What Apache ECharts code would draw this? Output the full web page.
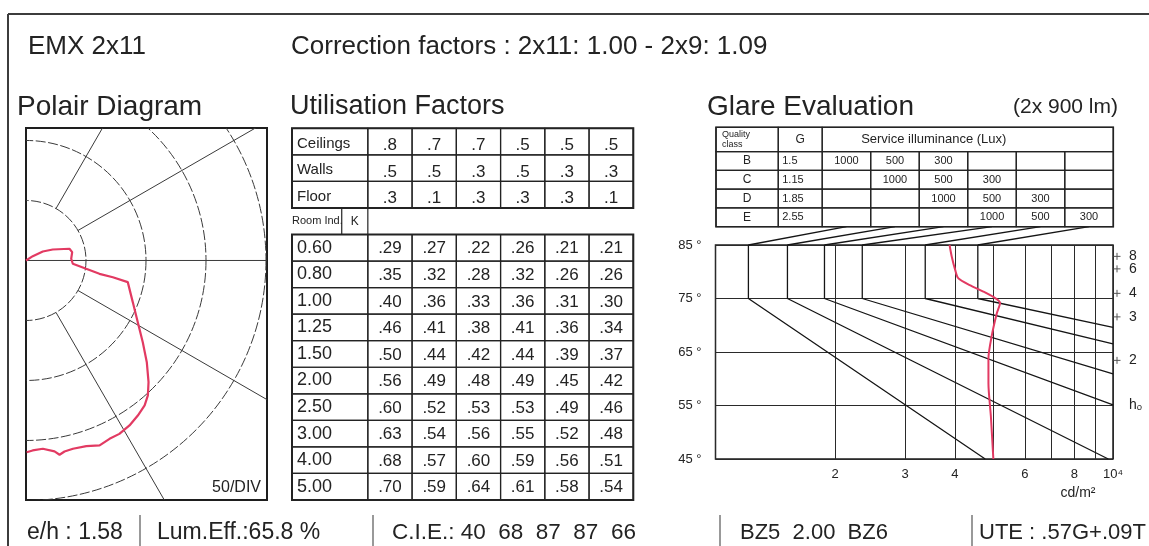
<!DOCTYPE html>
<html>
<head>
<meta charset="utf-8">
<script src="https://cdn.jsdelivr.net/npm/echarts@6/dist/echarts.min.js"></script>
<style>
html,body{margin:0;padding:0;background:#fff;}
#c{width:1149px;height:546px;}
</style>
</head>
<body>
<div id="c"></div>
<script>
// ================= DATA =================
// Polar light distribution (angle from nadir in degrees, intensity in cd/klm)
const polarAngles = [180, 122.3, 118.2, 112.3, 105.1, 100.2, 92.2, 86.0, 82.1, 79.7, 79.1, 78.0, 68.7, 61.1, 55.0, 49.9, 45.2, 42.1, 39.3, 35.8, 32.1, 28.3, 25.1, 21.7, 18.0, 14.0, 11.4, 9.8, 8.5, 5.1, 2.0, 0.2];
const polarIntensity = [0, 6.7, 15.9, 24.1, 37.5, 39.1, 37.7, 39.1, 50.6, 62.2, 73.7, 86.7, 95.5, 106.4, 118.8, 131.6, 143.9, 151.5, 156.1, 159.3, 162.3, 164.1, 164.1, 165.9, 162.7, 161.7, 162.4, 164.3, 160.9, 157.5, 158.4, 159.8];
const polarRings = [50, 100, 150, 200];
const polarSpokes = [30, 60, 90, 120, 150];

// Utilisation factors
const ceilings = [0.8, 0.7, 0.7, 0.5, 0.5, 0.5];
const walls    = [0.5, 0.5, 0.3, 0.5, 0.3, 0.3];
const floors   = [0.3, 0.1, 0.3, 0.3, 0.3, 0.1];
const roomIndices = ['0.60', '0.80', '1.00', '1.25', '1.50', '2.00', '2.50', '3.00', '4.00', '5.00'];
const utilisation = [
  [0.29, 0.27, 0.22, 0.26, 0.21, 0.21],
  [0.35, 0.32, 0.28, 0.32, 0.26, 0.26],
  [0.40, 0.36, 0.33, 0.36, 0.31, 0.30],
  [0.46, 0.41, 0.38, 0.41, 0.36, 0.34],
  [0.50, 0.44, 0.42, 0.44, 0.39, 0.37],
  [0.56, 0.49, 0.48, 0.49, 0.45, 0.42],
  [0.60, 0.52, 0.53, 0.53, 0.49, 0.46],
  [0.63, 0.54, 0.56, 0.55, 0.52, 0.48],
  [0.68, 0.57, 0.60, 0.59, 0.56, 0.51],
  [0.70, 0.59, 0.64, 0.61, 0.58, 0.54]
];

// Glare evaluation table
const qualityClasses = ['B', 'C', 'D', 'E'];
const glareG = ['1.5', '1.15', '1.85', '2.55'];
const serviceLux = [1000, 500, 300];
const serviceColumnStart = [0, 1, 2, 3];

// Glare limit curves (luminance cd/m2 : vertical part 85-75 deg, then end point)
const glareLimitTop = [1210, 1517, 1880, 2340, 3370, 4570];
const glareLimitEnd = [[4770, 45], [9730, 45], [10000, 55.1], [10000, 60.9], [10000, 66.5], [10000, 69.6]];

// Luminance curve of the luminaire
const glareAngles = [85, 82.8, 80.3, 78.8, 77.5, 76.3, 75.3, 74.2, 72.2, 67.9, 63.8, 59.1, 52.9, 45];
const glareLum = [3880, 3930, 4010, 4080, 4360, 4720, 5000, 5200, 5100, 4950, 4860, 4860, 4930, 5000];

// Axis ticks
const lumTicks = [2000, 3000, 4000, 6000, 8000, 10000];
const lumGrid = [1000, 2000, 3000, 4000, 5000, 6000, 7000, 8000, 9000, 10000];
const angleTicks = [45, 55, 65, 75, 85];
const ahRatios = [8, 6, 4, 3, 2];
const hoAngle = 55;

// Text blocks
const headerTitle = 'EMX 2x11';
const headerCorrection = 'Correction factors : 2x11: 1.00 - 2x9: 1.09';
const footerItems = ['e/h : 1.58', 'Lum.Eff.:65.8 %', 'C.I.E.: 40  68  87  87  66', 'BZ5  2.00  BZ6', 'UTE : .57G+.09T'];

// ================= STYLE / LAYOUT =================
const FONT = '"Liberation Sans", Arial, sans-serif';
const INK = '#232323';
const RED = '#e23a62';

function fmtDec(v, d) { return v.toFixed(d).replace(/^0/, ''); }

// ---- utilisation table cells ----
const UT_LABEL_W = 1.714;
const utilCells = [];
[['Ceilings', ceilings], ['Walls', walls], ['Floor', floors]].forEach(function (pair, r) {
  utilCells.push({x0: -UT_LABEL_W, x1: 0, y0: r, y1: r + 1, text: pair[0], align: 'left', pad: 5, size: 15, dy: 2});
  pair[1].forEach(function (v, c) {
    utilCells.push({x0: c, x1: c + 1, y0: r, y1: r + 1, text: fmtDec(v, 1), size: 17, dy: 4});
  });
});
utilCells.push({x0: -UT_LABEL_W, x1: -0.59, y0: 3, y1: 4, text: 'Room Ind.', align: 'left', pad: 0, size: 11, border: false});
utilCells.push({x0: -0.59, x1: 0, y0: 3, y1: 4, text: 'K', size: 12, border: false, lines: ['l', 'r']});
roomIndices.forEach(function (k, r) {
  const row = r + 4;
  utilCells.push({x0: -UT_LABEL_W, x1: 0, y0: row, y1: row + 1, text: k, align: 'left', pad: 5, size: 18});
  utilisation[r].forEach(function (v, c) {
    utilCells.push({x0: c, x1: c + 1, y0: row, y1: row + 1, text: fmtDec(v, 2), size: 17, dy: 1});
  });
});
utilCells.push({x0: -UT_LABEL_W, x1: 6, y0: 0, y1: 3, lw: 2});
utilCells.push({x0: -UT_LABEL_W, x1: 6, y0: 4, y1: 14, lw: 2});

// ---- glare table cells ----
const GQ_W = 1.283, GG_W = 0.906, GH = 1.3;
const gx0 = -(GQ_W + GG_W);
const glareCells = [];
glareCells.push({x0: gx0, x1: -GG_W, y0: 0, y1: GH, text: 'Quality\nclass', align: 'left', pad: 6, size: 9, lh: 10});
glareCells.push({x0: -GG_W, x1: 0, y0: 0, y1: GH, text: 'G', size: 12});
glareCells.push({x0: 0, x1: 6, y0: 0, y1: GH, text: 'Service illuminance (Lux)', size: 13, dx: -34});
qualityClasses.forEach(function (q, i) {
  const y0 = GH + i;
  glareCells.push({x0: gx0, x1: -GG_W, y0: y0, y1: y0 + 1, text: q, size: 12});
  glareCells.push({x0: -GG_W, x1: 0, y0: y0, y1: y0 + 1, text: glareG[i], align: 'left', pad: 4, size: 11});
  for (let j = 0; j < 6; j++) {
    const k = j - serviceColumnStart[i];
    glareCells.push({x0: j, x1: j + 1, y0: y0, y1: y0 + 1,
      text: (k >= 0 && k < serviceLux.length) ? String(serviceLux[k]) : null, size: 11});
  }
});
glareCells.push({x0: gx0, x1: 6, y0: 0, y1: GH + 4, lw: 1.6});

function renderCells(cells) {
  return function (params, api) {
    const c = cells[params.dataIndex];
    const p0 = api.coord([c.x0, c.y0]);
    const p1 = api.coord([c.x1, c.y1]);
    const x = Math.min(p0[0], p1[0]), y = Math.min(p0[1], p1[1]);
    const w = Math.abs(p1[0] - p0[0]), h = Math.abs(p1[1] - p0[1]);
    const kids = [];
    if (c.border !== false) {
      kids.push({type: 'rect', shape: {x: x, y: y, width: w, height: h},
        style: {fill: 'none', stroke: INK, lineWidth: c.lw || 1.2}});
    }
    (c.lines || []).forEach(function (s) {
      const lx = s === 'l' ? x : x + w;
      kids.push({type: 'line', shape: {x1: lx, y1: y, x2: lx, y2: y + h}, style: {stroke: INK, lineWidth: 1.2}});
    });
    if (c.text != null) {
      const tx = c.align === 'left' ? x + (c.pad || 0) : x + w / 2 + (c.dx || 0);
      const st = {text: c.text, fill: INK, font: c.size + 'px ' + FONT, align: c.align || 'center', verticalAlign: 'middle'};
      if (c.lh) st.lineHeight = c.lh;
      kids.push({type: 'text', x: tx, y: y + h / 2 + (c.dy || 0), style: st});
    }
    return {type: 'group', children: kids};
  };
}

// right-hand a/h scale of the glare diagram
function renderRightScale(labels, withTick) {
  return function (params, api) {
    const p = api.coord([api.value(0), api.value(1)]);
    const kids = [];
    if (withTick) {
      kids.push({type: 'line', shape: {x1: p[0] + 0.5, y1: p[1], x2: p[0] + 7.5, y2: p[1]}, style: {stroke: '#555', lineWidth: 1}});
      kids.push({type: 'line', shape: {x1: p[0] + 4, y1: p[1] - 3.5, x2: p[0] + 4, y2: p[1] + 3.5}, style: {stroke: '#555', lineWidth: 1}});
    }
    kids.push({type: 'text', x: p[0] + 16, y: p[1], style: {text: labels[params.dataIndex], fill: INK,
      font: '14px ' + FONT, align: 'left', verticalAlign: 'middle'}});
    return {type: 'group', children: kids};
  };
}

// ================= CHART =================
const chart = echarts.init(document.getElementById('c'), null, {renderer: 'canvas'});
const toRad = Math.PI / 180;

const option = {
  animation: false,
  backgroundColor: '#fff',
  grid: [
    {left: 26, top: 128, width: 241, height: 372, show: true, borderColor: '#1e1e1e', borderWidth: 2, backgroundColor: '#fff'},
    {left: 292, top: 128.3, width: 341.3, height: 371.7},
    {left: 716, top: 127.3, width: 397.3, height: 99.4},
    {left: 715.5, top: 245, width: 397.5, height: 214, show: true, borderColor: '#1e1e1e', borderWidth: 1.5, backgroundColor: '#fff'}
  ],
  xAxis: [
    {gridIndex: 0, type: 'value', min: 0, max: 200.83, show: false},
    {gridIndex: 1, type: 'value', min: -UT_LABEL_W, max: 6, show: false},
    {gridIndex: 2, type: 'value', min: gx0, max: 6, show: false},
    {gridIndex: 3, type: 'log', logBase: 10, min: 1000, max: 10000,
      axisLine: {show: false},
      axisTick: {show: false, customValues: lumGrid},
      splitLine: {show: true, lineStyle: {color: '#2a2a2a', width: 1}},
      axisLabel: {customValues: lumTicks, margin: 9, fontSize: 13, color: INK, fontFamily: FONT, hideOverlap: false,
        formatter: function (v) { return v >= 9999 ? '10\u2074' : String(Math.round(v / 1000)); }}
    }
  ],
  yAxis: [
    {gridIndex: 0, type: 'value', min: -199.6, max: 110.4, show: false},
    {gridIndex: 1, type: 'value', min: 0, max: 14, inverse: true, show: false},
    {gridIndex: 2, type: 'value', min: 0, max: GH + 4, inverse: true, show: false},
    {gridIndex: 3, type: 'value', min: 45, max: 85,
      axisLine: {show: false},
      axisTick: {show: false, customValues: angleTicks},
      splitLine: {show: true, lineStyle: {color: '#2a2a2a', width: 1}},
      axisLabel: {customValues: angleTicks, margin: 14, fontSize: 13, color: INK, fontFamily: FONT,
        formatter: function (v) { return v + ' \u00b0'; }}
    }
  ],
  series: [
    {type: 'custom', xAxisIndex: 0, yAxisIndex: 0, clip: true, silent: true,
      data: polarRings.map(function (r) { return [r, 0]; }),
      renderItem: function (params, api) {
        const r = api.value(0);
        const c = api.coord([0, 0]);
        const rr = api.size([r, 0])[0];
        return {type: 'circle', shape: {cx: c[0], cy: c[1], r: rr},
          style: {fill: 'none', stroke: '#3a3a3a', lineWidth: 1, lineDash: [10, 2.5]}};
      }
    },
    {type: 'custom', xAxisIndex: 0, yAxisIndex: 0, clip: true, silent: true,
      data: polarSpokes.map(function (a) { return [a, 0]; }),
      renderItem: function (params, api) {
        const a = api.value(0) * toRad;
        const r0 = Math.abs(api.value(0) - 90) < 1e-6 ? 0 : polarRings[0];
        const r1 = 400;
        const p0 = api.coord([r0 * Math.sin(a), -r0 * Math.cos(a)]);
        const p1 = api.coord([r1 * Math.sin(a), -r1 * Math.cos(a)]);
        return {type: 'line', shape: {x1: p0[0], y1: p0[1], x2: p1[0], y2: p1[1]},
          style: {stroke: '#3a3a3a', lineWidth: 1}};
      }
    },
    {type: 'line', xAxisIndex: 0, yAxisIndex: 0, symbol: 'none', silent: true,
      lineStyle: {color: RED, width: 2.2},
      data: polarAngles.map(function (a, i) {
        return [polarIntensity[i] * Math.sin(a * toRad), -polarIntensity[i] * Math.cos(a * toRad)];
      })
    },
    {type: 'custom', xAxisIndex: 1, yAxisIndex: 1, clip: false, silent: true,
      data: utilCells.map(function (c) { return [c.x0, c.y0, c.x1, c.y1]; }),
      renderItem: renderCells(utilCells)
    },
    {type: 'custom', xAxisIndex: 2, yAxisIndex: 2, clip: false, silent: true,
      data: glareCells.map(function (c) { return [c.x0, c.y0, c.x1, c.y1]; }),
      renderItem: renderCells(glareCells)
    },
    {type: 'custom', xAxisIndex: 3, yAxisIndex: 3, clip: false, silent: true,
      data: ahRatios.map(function (r) { return [10000, Math.atan(r) / toRad]; }),
      renderItem: renderRightScale(ahRatios.map(String), true)
    },
    {type: 'custom', xAxisIndex: 3, yAxisIndex: 3, clip: false, silent: true,
      data: [[10000, hoAngle]],
      renderItem: renderRightScale(['h\u2092'], false)
    }
  ].concat(glareLimitTop.map(function (L, i) {
    return {type: 'line', xAxisIndex: 3, yAxisIndex: 3, symbol: 'none', silent: true,
      lineStyle: {color: '#151515', width: 1.3},
      data: [[L, 85], [L, 75], glareLimitEnd[i]]};
  })).concat([
    {type: 'line', xAxisIndex: 3, yAxisIndex: 3, symbol: 'none', silent: true, smooth: 0.25,
      lineStyle: {color: RED, width: 2},
      data: glareAngles.map(function (a, i) { return [glareLum[i], a]; })
    }
  ])
};

chart.setOption(option);

// ---- free text, frame and connectors ----
function txt(x, y, s, size, align) {
  return {type: 'text', x: x, y: y, silent: true,
    style: {text: s, fill: INK, font: size + 'px ' + FONT, align: align || 'left', verticalAlign: 'middle'}};
}
function ln(x1, y1, x2, y2, w, col) {
  return {type: 'line', silent: true, shape: {x1: x1, y1: y1, x2: x2, y2: y2},
    style: {stroke: col || '#444', lineWidth: w || 1.5}};
}
const graphics = [
  ln(8, 14, 1149, 14, 2, '#3c3c3c'),
  ln(8, 14, 8, 546, 2, '#3c3c3c'),
  txt(28, 47, headerTitle, 26),
  txt(291, 47, headerCorrection, 26),
  txt(17, 107, 'Polair Diagram', 28),
  txt(290, 107, 'Utilisation Factors', 27),
  txt(707, 107, 'Glare Evaluation', 28),
  txt(1118, 107, '(2x 900 lm)', 21, 'right'),
  txt(261, 488, '50/DIV', 16, 'right'),
  txt(1078, 493, 'cd/m\u00b2', 14, 'center')
];
const footerX = [27, 157, 392, 740, 979];
const footerSize = [23, 23, 22.5, 22, 22];
footerItems.forEach(function (s, i) { graphics.push(txt(footerX[i], 533, s, footerSize[i])); });
[140, 373, 720, 972].forEach(function (x) { graphics.push(ln(x, 515, x, 546, 1.5, '#777')); });

glareLimitTop.forEach(function (L, i) {
  const a = chart.convertToPixel({xAxisIndex: 2, yAxisIndex: 2}, [i + 0.5, GH + 4]);
  const b = chart.convertToPixel({xAxisIndex: 3, yAxisIndex: 3}, [L, 85]);
  graphics.push(ln(a[0], a[1], b[0], b[1], 1.3, '#151515'));
});

chart.setOption({graphic: graphics});
</script>
</body>
</html>
